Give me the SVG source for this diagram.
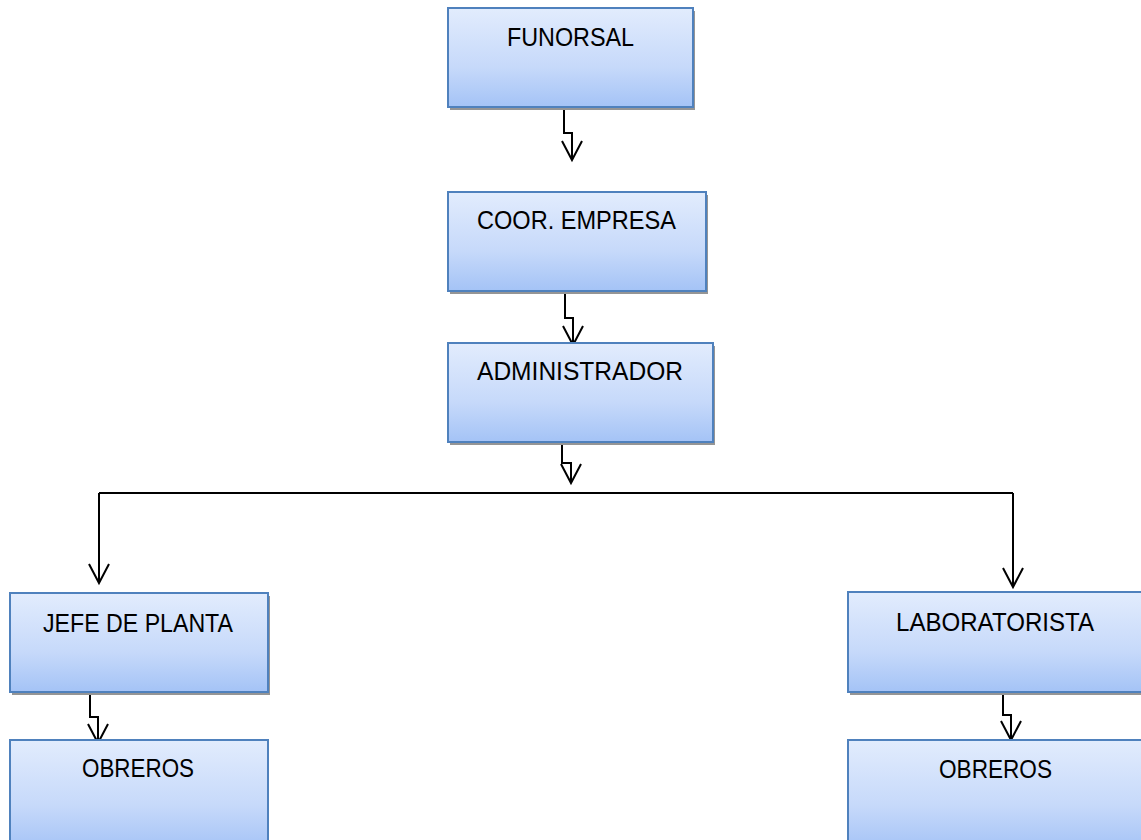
<svg xmlns="http://www.w3.org/2000/svg" width="1141" height="840" viewBox="0 0 1141 840">
  <defs>
    <linearGradient id="boxGrad" x1="0" y1="0" x2="0" y2="1">
      <stop offset="0" stop-color="#E2ECFD"/>
      <stop offset="0.6" stop-color="#C6D9FA"/>
      <stop offset="1" stop-color="#A4C3F6"/>
    </linearGradient>
    <marker id="arrow" markerUnits="userSpaceOnUse" markerWidth="24" markerHeight="24" viewBox="-20 -12 24 24" refX="0" refY="0" orient="auto" overflow="visible">
      <path d="M-19,-10 L0,0 L-19,10" fill="none" stroke="#000" stroke-width="2"/>
    </marker>
  </defs>
  <style>
    .shadow { fill: #959595; }
    .box { fill: url(#boxGrad); stroke: #4F81BD; stroke-width: 2; }
    .label { font-family: "Liberation Sans", Arial, sans-serif; font-size: 26px; fill: #000; text-anchor: middle; }
    .conn { fill: none; stroke: #000; stroke-width: 2; marker-end: url(#arrow); }
  </style>
  <rect width="1141" height="840" fill="#fff"/>

  <g id="connectors">
    <path class="conn" d="M564,108 V133 H572 V160"/>
    <path class="conn" d="M565,292 V318 H573 V345"/>
    <path class="conn" d="M562,443 V463 H571 V483"/>
    <path fill="none" stroke="#000" stroke-width="2" d="M99,493 H1013"/>
    <path class="conn" d="M99,493 V583"/>
    <path class="conn" d="M1013,493 V587"/>
    <path class="conn" d="M90,693 V717 H98 V743"/>
    <path class="conn" d="M1003,693 V715 H1011 V740"/>
  </g>

  <g id="node-funorsal">
    <rect class="shadow" x="450" y="11" width="245" height="99"/>
    <rect class="box" x="448" y="8" width="245" height="99"/>
    <text class="label" x="570.5" y="46" textLength="127" lengthAdjust="spacingAndGlyphs">FUNORSAL</text>
  </g>
  <g id="node-coor-empresa">
    <rect class="shadow" x="450" y="195" width="258" height="99"/>
    <rect class="box" x="448" y="192" width="258" height="99"/>
    <text class="label" x="576.5" y="229" textLength="199" lengthAdjust="spacingAndGlyphs">COOR. EMPRESA</text>
  </g>
  <g id="node-administrador">
    <rect class="shadow" x="450" y="346" width="265" height="99"/>
    <rect class="box" x="448" y="343" width="265" height="99"/>
    <text class="label" x="580" y="380" textLength="206" lengthAdjust="spacingAndGlyphs">ADMINISTRADOR</text>
  </g>
  <g id="node-jefe-planta">
    <rect class="shadow" x="12" y="596" width="258" height="99"/>
    <rect class="box" x="10" y="593" width="258" height="99"/>
    <text class="label" x="138" y="632" textLength="190" lengthAdjust="spacingAndGlyphs">JEFE DE PLANTA</text>
  </g>
  <g id="node-obreros-left">
    <rect class="box" x="10" y="740" width="258" height="110"/>
    <text class="label" x="138" y="777" textLength="112" lengthAdjust="spacingAndGlyphs">OBREROS</text>
  </g>
  <g id="node-laboratorista">
    <rect class="shadow" x="850" y="595" width="300" height="100"/>
    <rect class="box" x="848" y="592" width="300" height="100"/>
    <text class="label" x="995" y="631" textLength="198" lengthAdjust="spacingAndGlyphs">LABORATORISTA</text>
  </g>
  <g id="node-obreros-right">
    <rect class="box" x="848" y="740" width="300" height="110"/>
    <text class="label" x="995.5" y="778" textLength="113" lengthAdjust="spacingAndGlyphs">OBREROS</text>
  </g>
</svg>
